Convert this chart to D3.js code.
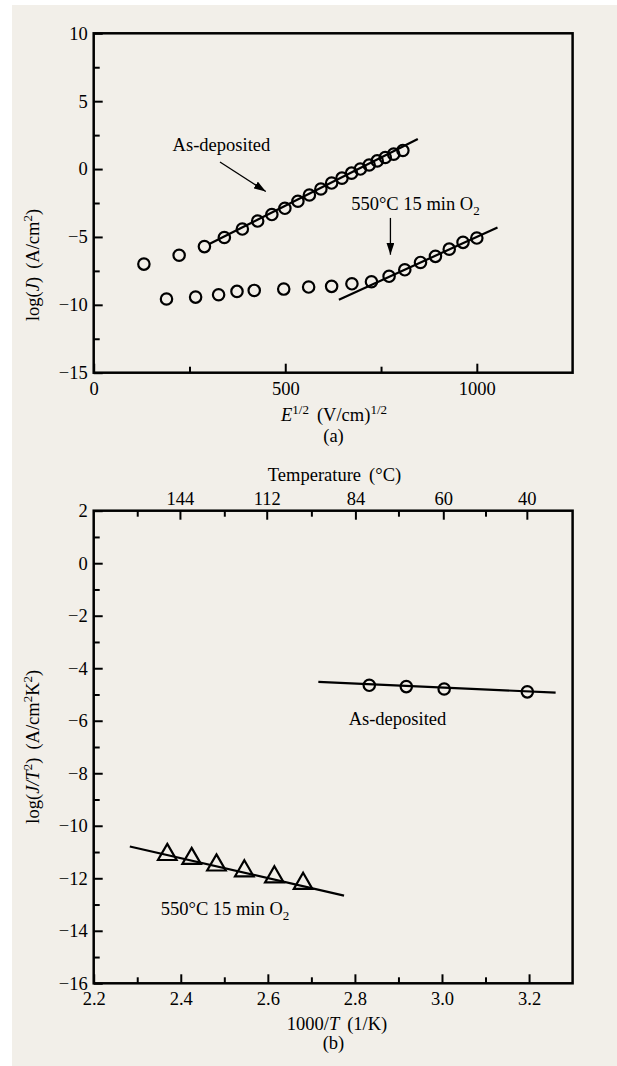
<!DOCTYPE html>
<html>
<head>
<meta charset="utf-8">
<script src="https://cdn.jsdelivr.net/npm/d3@7"></script>
<style>
body { margin: 0; background: #fff; }
svg { display: block; font-family: "Liberation Serif", "Times New Roman", serif; }
</style>
</head>
<body>
<div id="chart"></div>
<script>
/* Two panel plot: (a) log J vs E^1/2, (b) Arrhenius plot log(J/T^2) vs 1000/T */

// panel (a) data
const asDepE = [131, 223, 289, 341, 388, 428, 465, 499, 533, 563, 593, 621, 648, 673, 696, 719, 740, 761, 783, 807];
const asDepLogJ = [-7.0, -6.35, -5.71, -5.04, -4.42, -3.83, -3.35, -2.89, -2.37, -1.91, -1.47, -1.03, -0.67, -0.3, 0.0, 0.3, 0.6, 0.85, 1.1, 1.37];
const asDepFitA = [[303, -5.5], [846, 2.21]];

const o2E = [190, 266, 326, 374, 419, 496, 561, 621, 674, 725, 771, 812, 853, 892, 928, 964, 1000];
const o2LogJ = [-9.57, -9.43, -9.26, -9.01, -8.94, -8.84, -8.69, -8.64, -8.45, -8.3, -7.9, -7.42, -6.88, -6.43, -5.9, -5.4, -5.08];
const o2FitA = [[640, -9.62], [1054, -4.3]];

const aXMajor = [0, 500, 1000];
const aXMinor = [250, 750];
const aYMajor = [-15, -10, -5, 0, 5, 10];
const aYMinor = [-12.5, -7.5, -2.5, 2.5, 7.5];

// panel (b) data
const asDepInvT = [2.833, 2.918, 3.005, 3.196];
const asDepLogJT = [-4.65, -4.70, -4.79, -4.90];
const asDepFitB = [[2.716, -4.52], [3.261, -4.93]];

const o2InvT = [2.369, 2.425, 2.482, 2.546, 2.615, 2.681];
const o2LogJT = [-11.1, -11.25, -11.5, -11.72, -11.95, -12.2];
const o2FitB = [[2.283, -10.79], [2.775, -12.66]];

const bXMajor = [2.2, 2.4, 2.6, 2.8, 3.0, 3.2];
const bXMinor = [2.3, 2.5, 2.7, 2.9, 3.1];
const bYMajor = [-16, -14, -12, -10, -8, -6, -4, -2, 0, 2];
const bYMinor = [-15, -13, -11, -9, -7, -5, -3, -1, 1];
const tempLabels = [144, 112, 84, 60, 40];

const width = 617, height = 1066;
const ink = "#000";
const fs = 18.5;

const svg = d3.select("#chart")
    .append("svg")
    .attr("width", width)
    .attr("height", height)
    .attr("viewBox", [0, 0, width, height]);

svg.append("rect").attr("width", width).attr("height", height).attr("fill", "#fff");
svg.append("rect").attr("x", 12).attr("y", 5)
    .attr("width", width - 12).attr("height", height - 5)
    .attr("fill", "#f2efe9");

svg.append("defs").append("marker")
    .attr("id", "arrow")
    .attr("markerUnits", "userSpaceOnUse")
    .attr("markerWidth", 12).attr("markerHeight", 8)
    .attr("refX", 12).attr("refY", 4)
    .attr("orient", "auto")
    .append("path")
    .attr("d", "M0,0 L12,4 L0,8 Z")
    .attr("fill", ink);

// scales
const xa = d3.scaleLinear().domain([0, 1250]).range([93.7, 572.6]);
const ya = d3.scaleLinear().domain([-15, 10]).range([372.7, 33.3]);
const xb = d3.scaleLinear().domain([2.2, 3.3]).range([93.7, 572.6]);
const yb = d3.scaleLinear().domain([-16, 2]).range([983.3, 510.7]);

const fmt = d3.format("");
const fmtB = d3.format(".1f");

function styleAxis(g) {
    g.attr("font-family", null).attr("font-size", null);
    g.select(".domain").remove();
    g.selectAll(".tick line").attr("stroke", ink).attr("stroke-width", 2);
    g.selectAll(".tick text").attr("fill", ink).attr("font-size", fs);
}

function frame(x, y) {
    svg.append("rect")
        .attr("x", x.range()[0])
        .attr("y", y.range()[1])
        .attr("width", x.range()[1] - x.range()[0])
        .attr("height", y.range()[0] - y.range()[1])
        .attr("fill", "none")
        .attr("stroke", ink)
        .attr("stroke-width", 2.5);
}

function axes(x, y, xMaj, xMin, yMaj, yMin, xFmt) {
    const bottom = y.range()[0], left = x.range()[0];
    svg.append("g")
        .attr("transform", `translate(0,${bottom})`)
        .call(d3.axisBottom(x).tickValues(xMaj).tickFormat(xFmt).tickSizeInner(-9).tickSizeOuter(0).tickPadding(9))
        .call(styleAxis);
    svg.append("g")
        .attr("transform", `translate(0,${bottom})`)
        .call(d3.axisBottom(x).tickValues(xMin).tickFormat("").tickSizeInner(-6).tickSizeOuter(0))
        .call(styleAxis);
    svg.append("g")
        .attr("transform", `translate(${left},0)`)
        .call(d3.axisLeft(y).tickValues(yMaj).tickFormat(fmt).tickSizeInner(-9).tickSizeOuter(0).tickPadding(6))
        .call(styleAxis);
    svg.append("g")
        .attr("transform", `translate(${left},0)`)
        .call(d3.axisLeft(y).tickValues(yMin).tickFormat("").tickSizeInner(-6).tickSizeOuter(0))
        .call(styleAxis);
}

// rich text with italic / superscript / subscript runs
function richText(x, y, parts, anchor, rotate) {
    const t = svg.append("text")
        .attr("font-size", fs)
        .attr("fill", ink)
        .attr("text-anchor", anchor || "start");
    if (rotate) t.attr("transform", `translate(${x},${y}) rotate(-90)`);
    else t.attr("x", x).attr("y", y);
    let shift = 0;
    parts.forEach(p => {
        const ts = t.append("tspan").text(p.t);
        let s = 0;
        if (p.sup) s = -7;
        if (p.sub) s = 5;
        if (s !== shift) ts.attr("dy", s - shift);
        shift = s;
        if (p.sup || p.sub) ts.attr("font-size", 13);
        if (p.i) ts.attr("font-style", "italic");
        if (p.dx) ts.attr("dx", p.dx);
    });
    return t;
}

const line = d3.line();

// ---------- panel (a) ----------
axes(xa, ya, aXMajor, aXMinor, aYMajor, aYMinor, fmt);
frame(xa, ya);

const fitsA = [asDepFitA, o2FitA];
svg.selectAll(".fitA")
    .data(fitsA)
    .join("path")
    .attr("class", "fitA")
    .attr("d", d => line(d.map(p => [xa(p[0]), ya(p[1])])))
    .attr("fill", "none")
    .attr("stroke", ink)
    .attr("stroke-width", 2.2);

const ptsA = asDepE.map((e, i) => ({x: e, y: asDepLogJ[i]}))
    .concat(o2E.map((e, i) => ({x: e, y: o2LogJ[i]})));

svg.selectAll(".ptA")
    .data(ptsA)
    .join("circle")
    .attr("class", "ptA")
    .attr("cx", d => xa(d.x))
    .attr("cy", d => ya(d.y))
    .attr("r", 5.7)
    .attr("fill", "none")
    .attr("stroke", ink)
    .attr("stroke-width", 2.2);

richText(xa(206), ya(1.3), [{t: "As-deposited"}]);
svg.append("line")
    .attr("x1", xa(329.6)).attr("y1", ya(0.52))
    .attr("x2", xa(449.2)).attr("y2", ya(-1.65))
    .attr("stroke", ink).attr("stroke-width", 1.3)
    .attr("marker-end", "url(#arrow)");

richText(xa(672), ya(-3.0), [{t: "550°C 15 min O"}, {t: "2", sub: true}]);
svg.append("line")
    .attr("x1", xa(774.5)).attr("y1", ya(-3.6))
    .attr("x2", xa(774.5)).attr("y2", ya(-6.31))
    .attr("stroke", ink).attr("stroke-width", 1.3)
    .attr("marker-end", "url(#arrow)");

richText(39, 265, [{t: "log("}, {t: "J", i: true}, {t: ")"}, {t: "(A/cm", dx: 8}, {t: "2", sup: true}, {t: ")"}], "middle", true);
richText(334, 421, [{t: "E", i: true}, {t: "1/2", sup: true}, {t: "(V/cm)", dx: 8}, {t: "1/2", sup: true}], "middle");
richText(333.5, 442, [{t: "(a)"}], "middle");

// ---------- panel (b) ----------
axes(xb, yb, bXMajor, bXMinor, bYMajor, bYMinor, fmtB);

// top temperature axis
const topY = yb.range()[1];
svg.append("g")
    .attr("transform", `translate(0,${topY})`)
    .call(d3.axisTop(xb)
        .tickValues(tempLabels.map(t => 1000 / (t + 273)))
        .tickFormat((d, i) => tempLabels[i])
        .tickSizeInner(-9).tickSizeOuter(0).tickPadding(6))
    .call(styleAxis);
svg.append("g")
    .attr("transform", `translate(0,${topY})`)
    .call(d3.axisTop(xb).tickValues(bXMinor).tickFormat("").tickSizeInner(-6).tickSizeOuter(0))
    .call(styleAxis);
frame(xb, yb);

const fitsB = [asDepFitB, o2FitB];
svg.selectAll(".fitB")
    .data(fitsB)
    .join("path")
    .attr("class", "fitB")
    .attr("d", d => line(d.map(p => [xb(p[0]), yb(p[1])])))
    .attr("fill", "none")
    .attr("stroke", ink)
    .attr("stroke-width", 2.2);

svg.selectAll(".ptB")
    .data(asDepInvT.map((v, i) => ({x: v, y: asDepLogJT[i]})))
    .join("circle")
    .attr("class", "ptB")
    .attr("cx", d => xb(d.x))
    .attr("cy", d => yb(d.y))
    .attr("r", 5.7)
    .attr("fill", "none")
    .attr("stroke", ink)
    .attr("stroke-width", 2.2);

const tri = d3.symbol().type(d3.symbolTriangle).size(150);
svg.selectAll(".triB")
    .data(o2InvT.map((v, i) => ({x: v, y: o2LogJT[i]})))
    .join("path")
    .attr("class", "triB")
    .attr("transform", d => `translate(${xb(d.x)},${yb(d.y)})`)
    .attr("d", tri)
    .attr("fill", "none")
    .attr("stroke", ink)
    .attr("stroke-width", 2.2);

richText(xb(2.7856), yb(-6.16), [{t: "As-deposited"}]);
richText(xb(2.354), yb(-13.4), [{t: "550°C 15 min O"}, {t: "2", sub: true}]);

richText(334.5, 481, [{t: "Temperature"}, {t: "(°C)", dx: 8}], "middle");
richText(39, 746.7, [{t: "log("}, {t: "J/T", i: true}, {t: "2", sup: true}, {t: ")"}, {t: "(A/cm", dx: 8}, {t: "2", sup: true}, {t: "K"}, {t: "2", sup: true}, {t: ")"}], "middle", true);
richText(337, 1030, [{t: "1000/"}, {t: "T", i: true}, {t: "(1/K)", dx: 8}], "middle");
richText(333.5, 1049, [{t: "(b)"}], "middle");
</script>
</body>
</html>
